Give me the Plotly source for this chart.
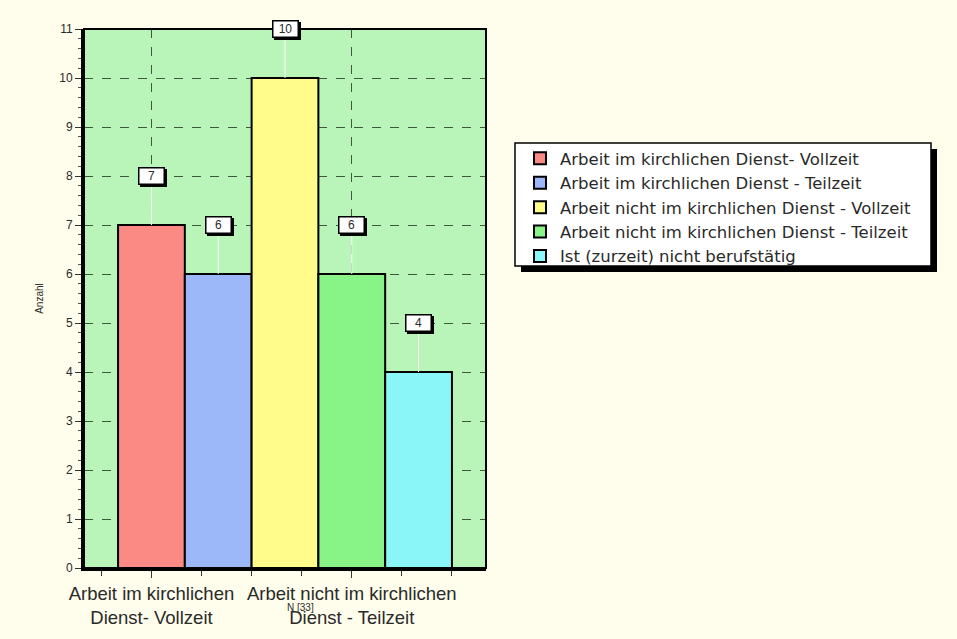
import plotly.graph_objects as go

# Series shown as separate bars (one legend entry each)
series_names = [
    "Arbeit im kirchlichen Dienst- Vollzeit",
    "Arbeit im kirchlichen Dienst - Teilzeit",
    "Arbeit nicht im kirchlichen Dienst - Vollzeit",
    "Arbeit nicht im kirchlichen Dienst - Teilzeit",
    "Ist (zurzeit) nicht berufstätig",
]
counts = [7, 6, 10, 6, 4]
bar_colors = ["#FC8A84", "#9DB8F8", "#FFFC8C", "#88F488", "#8AF6F8"]

# Category axis labels (placed at bar positions 0 and 3)
x_tick_positions = [0, 3]
x_tick_labels = [
    "Arbeit im kirchlichen<br>Dienst- Vollzeit",
    "Arbeit nicht im kirchlichen<br>Dienst - Teilzeit",
]
y_tick_values = list(range(0, 12))
total_label = "N [33]"

FONT = "Liberation Sans, Arial, sans-serif"
LEG_FONT = "DejaVu Sans, Verdana, sans-serif"
TXT = "#2a2a2a"
GRID = "#3d5a3d"

# Plot area in pixels: left 84, right 486, top 29, bottom 568
PL, PR, PT, PB = 84, 486, 29, 568


def px_x(p):
    return (p - PL) / (PR - PL)


def px_y(p):
    return (PB - p) / (PB - PT)


fig = go.Figure()
for i, (name, v, c) in enumerate(zip(series_names, counts, bar_colors)):
    fig.add_trace(go.Bar(
        x=[i], y=[v], name=name, width=1.0,
        marker=dict(color=c, line=dict(color="black", width=2)),
        hoverinfo="name+y",
    ))

# White leader lines and boxed value labels (with drop shadow)
for i, v in enumerate(counts):
    fig.add_shape(type="line", x0=i, x1=i, y0=v, y1=v + 1, xref="x", yref="y",
                  line=dict(color="white", width=1), layer="above")
    fig.add_annotation(x=i, y=v + 1, text=str(v), showarrow=False,
                       xshift=2, yshift=-2, width=22, height=13,
                       bgcolor="black", bordercolor="black",
                       borderwidth=1.5, borderpad=1,
                       font=dict(family=FONT, size=12, color="black"))
    fig.add_annotation(x=i, y=v + 1, text=str(v), showarrow=False,
                       width=22, height=13,
                       bgcolor="white", bordercolor="black", borderwidth=1.5,
                       borderpad=1, font=dict(family=FONT, size=12, color=TXT))

# Thin frame around the plot area
fig.add_shape(type="rect", xref="x domain", yref="y domain", x0=0, x1=1, y0=0, y1=1,
              line=dict(color="black", width=2), fillcolor="rgba(0,0,0,0)", layer="above")

# Legend panel: drop shadow, then white box with black border
fig.add_shape(type="rect", xref="paper", yref="paper",
              x0=px_x(521), x1=px_x(937), y0=px_y(272), y1=px_y(149),
              fillcolor="black", line=dict(width=0), layer="below")
fig.add_shape(type="rect", xref="paper", yref="paper",
              x0=px_x(515), x1=px_x(931), y0=px_y(266), y1=px_y(143),
              fillcolor="white", line=dict(color="black", width=1.5), layer="below")

fig.add_annotation(text=total_label, xref="paper", yref="paper",
                   x=px_x(300), y=px_y(607), xanchor="center", yanchor="middle",
                   showarrow=False, font=dict(family=FONT, size=10, color=TXT))

fig.update_layout(
    width=957, height=639,
    margin=dict(l=PL, r=957 - PR, t=PT, b=639 - PB),
    paper_bgcolor="#FFFDEB",
    plot_bgcolor="#B9F5B9",
    barmode="overlay",
    font=dict(family=FONT, color=TXT),
    showlegend=True,
    legend=dict(
        x=px_x(520), y=px_y(141), xanchor="left", yanchor="top",
        bgcolor="rgba(0,0,0,0)", borderwidth=0,
        font=dict(family=LEG_FONT, size=16.5, color=TXT),
        tracegroupgap=0, itemsizing="constant",
    ),
    xaxis=dict(
        range=[-1.01, 5.01], tickmode="array", tickvals=x_tick_positions,
        ticktext=x_tick_labels, ticks="outside", ticklen=7, tickwidth=1,
        tickcolor="#333", showline=True, linecolor="black", linewidth=3,
        showgrid=True, gridcolor=GRID, griddash="dash", gridwidth=1.2,
        zeroline=False, tickfont=dict(family=FONT, size=18.5, color=TXT),
        minor=dict(tick0=0, dtick=0.75, ticks="outside", ticklen=5,
                   tickcolor="#333", showgrid=False),
    ),
    yaxis=dict(
        range=[0, 11], tickmode="array", tickvals=y_tick_values,
        ticks="outside", ticklen=6, tickwidth=1, tickcolor="#333",
        showline=True, linecolor="black", linewidth=3,
        showgrid=True, gridcolor=GRID, griddash="dash", gridwidth=1.2,
        zeroline=False, tickfont=dict(family=FONT, size=12, color=TXT),
        title=dict(text="Anzahl", font=dict(family=FONT, size=10, color=TXT), standoff=14),
        minor=dict(tick0=0, dtick=0.2, ticks="outside", ticklen=3,
                   tickcolor="#555", showgrid=False),
    ),
)

fig.write_html("out.html")
